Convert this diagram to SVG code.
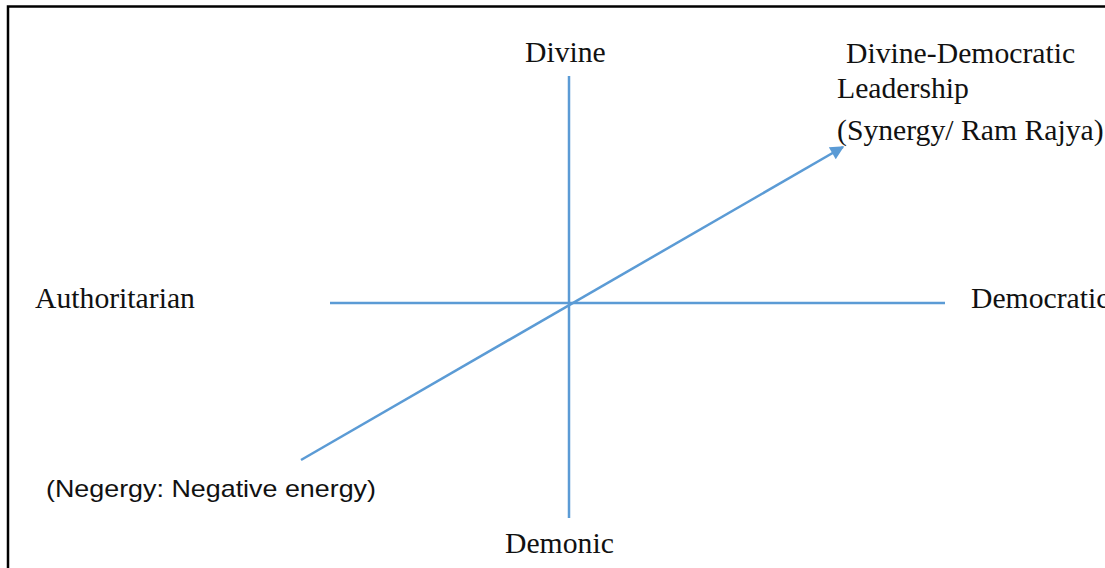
<svg xmlns="http://www.w3.org/2000/svg" width="1105" height="568" viewBox="0 0 1105 568">
<style>
.ax{stroke:#5B9BD5;stroke-width:2.5;fill:none}
.t{font-family:"Liberation Serif","Times New Roman",serif;font-size:29.7px;fill:#111}
.s{font-family:"Liberation Sans",Arial,sans-serif;font-size:24px;fill:#111}
</style>
<defs>
<marker id="ah" viewBox="0 0 10 10" refX="9" refY="5" markerWidth="6.5" markerHeight="5.5" markerUnits="strokeWidth" orient="auto">
<path d="M0,0 L10,5 L0,10 Z" fill="#5B9BD5"/>
</marker>
</defs>
<rect width="1105" height="568" fill="#fff"/>
<path d="M8,568 V6.5 H1105" stroke="#000" stroke-width="2.5" fill="none"/>
<g id="connectors">
<line class="ax" x1="569" y1="76" x2="569" y2="518"/>
<line class="ax" x1="330" y1="303" x2="945" y2="303"/>
<line class="ax" x1="301" y1="460" x2="843" y2="147" marker-end="url(#ah)"/>
</g>
<g id="divine"><text class="t" x="525" y="62">Divine</text></g>
<g id="demonic"><text class="t" x="505" y="553">Demonic</text></g>
<g id="authoritarian"><text class="t" x="35" y="308">Authoritarian</text></g>
<g id="democratic"><text class="t" x="971" y="308">Democratic</text></g>
<g id="divine-democratic">
<text class="t" x="846" y="63">Divine-Democratic</text>
<text class="t" x="837" y="98">Leadership</text>
<text class="t" x="837" y="140">(Synergy/ Ram Rajya)</text>
</g>
<g id="negergy"><text class="s" x="46" y="497" textLength="330" lengthAdjust="spacingAndGlyphs">(Negergy: Negative energy)</text></g>
</svg>
